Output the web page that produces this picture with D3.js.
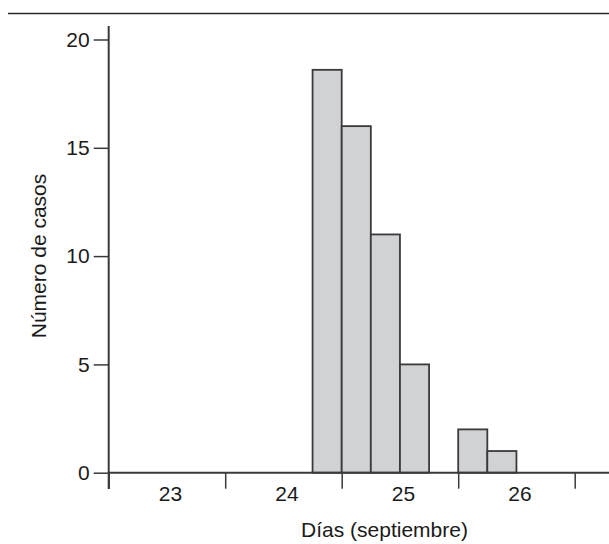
<!DOCTYPE html>
<html>
<head>
<meta charset="utf-8">
<script src="https://cdn.jsdelivr.net/npm/d3@7"></script>
<style>
  body { margin: 0; background: #fff; }
  svg { display: block; font-family: "Liberation Sans", Arial, sans-serif; }
</style>
</head>
<body>
<svg></svg>
<script>
const days = [23, 24, 25, 26];
const dayEdges = [23, 24, 25, 26, 27];
const binStarts = [24.75, 25, 25.25, 25.5, 26, 26.25];
const cases = [18.6, 16, 11, 5, 2, 1];
const yTicks = [0, 5, 10, 15, 20];

const width = 609;
const height = 544;
const binWidth = 0.25;

const svg = d3.select('svg')
  .attr('width', width)
  .attr('height', height);

const x = d3.scaleLinear().domain([23, 27]).range([108.7, 574.7]);
const y = d3.scaleLinear().domain([0, 20]).range([472.7, 39.5]);

// top rule
svg.append('line')
  .attr('x1', 8).attr('x2', width)
  .attr('y1', 13.5).attr('y2', 13.5)
  .attr('stroke', '#2b2b2b').attr('stroke-width', 1.6);

// bars
svg.selectAll('rect.bar')
  .data(binStarts)
  .enter().append('rect')
  .attr('class', 'bar')
  .attr('x', d => x(d))
  .attr('y', (d, i) => y(cases[i]))
  .attr('width', d => x(d + binWidth) - x(d))
  .attr('height', (d, i) => y(0) - y(cases[i]))
  .attr('fill', '#d1d2d4')
  .attr('stroke', '#3a3a3c')
  .attr('stroke-width', 1.8);

// y axis
const yAxis = svg.append('g')
  .attr('transform', `translate(${x(23)},0)`)
  .call(d3.axisLeft(y).tickValues(yTicks).tickSize(15).tickPadding(4));
yAxis.select('.domain').remove();
yAxis.append('line')
  .attr('x1', 0).attr('x2', 0)
  .attr('y1', 26).attr('y2', 489)
  .attr('stroke', '#3a3a3c').attr('stroke-width', 2);
yAxis.selectAll('.tick line').attr('stroke', '#3a3a3c').attr('stroke-width', 1.5);
yAxis.selectAll('.tick text')
  .attr('fill', '#1a1a1a')
  .style('font-size', '21px')
  .style('font-family', '"Liberation Sans", Arial, sans-serif');

// x axis
const xAxis = svg.append('g')
  .attr('transform', `translate(0,${y(0)})`)
  .call(d3.axisBottom(x).tickValues(dayEdges).tickSize(16).tickFormat(''));
xAxis.select('.domain').remove();
xAxis.append('line')
  .attr('x1', x(23)).attr('x2', width)
  .attr('y1', 0).attr('y2', 0)
  .attr('stroke', '#3a3a3c').attr('stroke-width', 2);
xAxis.selectAll('.tick line').attr('stroke', '#3a3a3c').attr('stroke-width', 1.5);

svg.append('g')
  .selectAll('text')
  .data(days)
  .enter().append('text')
  .attr('x', d => x(d + 0.53))
  .attr('y', 500.5)
  .attr('text-anchor', 'middle')
  .attr('fill', '#1a1a1a')
  .style('font-size', '21px')
  .text(d => d);

// axis titles
svg.append('text')
  .attr('x', 384.5)
  .attr('y', 537)
  .attr('text-anchor', 'middle')
  .attr('fill', '#1a1a1a')
  .style('font-size', '21px')
  .text('Días (septiembre)');

svg.append('text')
  .attr('transform', 'translate(46,256) rotate(-90)')
  .attr('text-anchor', 'middle')
  .attr('fill', '#1a1a1a')
  .style('font-size', '21px')
  .text('Número de casos');
</script>
</body>
</html>
